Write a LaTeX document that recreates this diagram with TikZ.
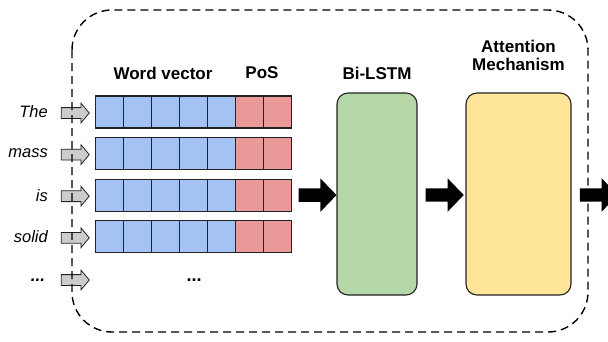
\documentclass[tikz,border=0pt]{standalone}
\usepackage{fontspec}
\setmainfont{Liberation Sans}
\usetikzlibrary{shapes.arrows,calc}
\definecolor{vecblue}{HTML}{A4C2F4}
\definecolor{posred}{HTML}{EA9999}
\definecolor{lstmgreen}{HTML}{B6D7A8}
\definecolor{attyellow}{HTML}{FFE599}
\definecolor{inarrow}{HTML}{CCCCCC}
\definecolor{edge}{HTML}{222222}
\begin{document}
\begin{tikzpicture}[x=1pt,y=-1pt,
  cell/.style={draw=edge,line width=1.1pt,minimum width=28pt,minimum height=32pt,inner sep=0pt,anchor=west},
  wordlbl/.style={font=\fontsize{16.5}{18}\selectfont\itshape,anchor=east,inner sep=0pt},
  header/.style={font=\fontsize{17}{20}\selectfont\bfseries,align=center,inner sep=0pt},
  block/.style={draw=edge,line width=1.1pt,rounded corners=11pt,inner sep=0pt},
  feedarrow/.style={single arrow,draw=edge,line width=0.8pt,fill=inarrow,inner xsep=0pt,inner ysep=5pt,
    single arrow head extend=4.5pt,single arrow tip angle=100,minimum height=28pt,minimum width=19pt},
  flowarrow/.style={single arrow,fill=black,inner xsep=0pt,inner ysep=6.5pt,
    single arrow head extend=10pt,single arrow tip angle=92,minimum height=38pt,minimum width=33pt}]
\useasboundingbox (0,0) rectangle (608,341);

% token rows: five word-vector cells and two PoS cells each
\foreach \r/\w in {1/The,2/mass,3/is,4/solid}{
  \pgfmathsetmacro{\yc}{112+41.6*(\r-1)}
  \foreach \c in {1,...,7}{
    \ifnum\c<6
      \node[cell,fill=vecblue] (c\r-\c) at ({95+28*(\c-1)},\yc) {};
    \else
      \node[cell,fill=posred] (c\r-\c) at ({95+28*(\c-1)},\yc) {};
    \fi
  }
  \node[wordlbl] (w\r) at (48,\yc) {\w};
  \node[feedarrow] (in\r) at ($(c\r-1.west)+(-22,1)$) {};
}
\node[font=\fontsize{17}{18}\selectfont\bfseries\itshape,inner sep=0pt] (w5) at (38,280) {...};
\node[feedarrow] (in5) at (73,280) {};
\node[font=\fontsize{18}{18}\selectfont\bfseries,inner sep=0pt] (more) at (194,280) {...};

% column headers
\node[header] (hwv) at (163,73) {Word vector};
\node[header] (hpos) at (262,73) {PoS};

% Bi-LSTM and attention blocks
\node[block,fill=lstmgreen,minimum width=80pt,minimum height=202pt] (lstm) at (377,194) {};
\node[block,fill=attyellow,minimum width=105pt,minimum height=202pt] (att) at (518.5,194) {};
\node[header] (hlstm) at (lstm.center|-0,73) {Bi-LSTM};
\node[header] (hatt) at (att.center|-0,55) {Attention\\[-2pt]Mechanism};

% flow arrows between stages
\node[flowarrow] (a1) at ($(c3-7.east)!0.5!(lstm.west)+(0,0.5)$) {};
\node[flowarrow] (a2) at ($(lstm.east)!0.5!(att.west)+(0,1)$) {};
\node[flowarrow] (a3) at ($(att.east)+(24,1)$) {};

% dashed frame around the whole model
\draw[line width=1.4pt,dash pattern=on 8pt off 5pt,rounded corners=40pt] (72,10) rectangle (588,332);
\end{tikzpicture}
\end{document}
